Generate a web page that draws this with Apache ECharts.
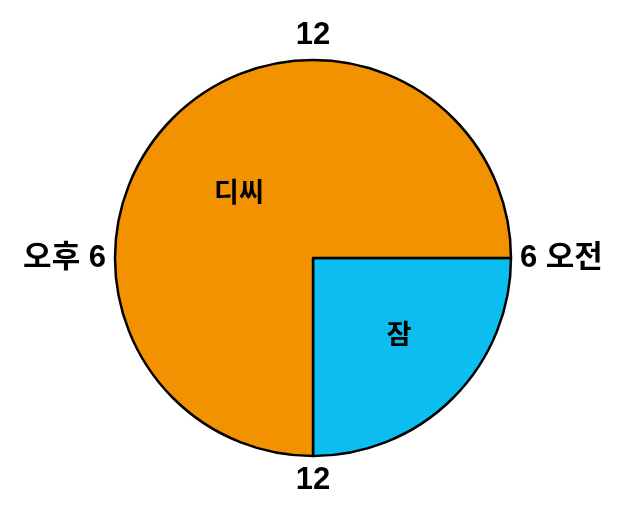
<!DOCTYPE html>
<html>
<head>
<meta charset="utf-8">
<script src="https://cdn.jsdelivr.net/npm/echarts@6/dist/echarts.min.js"></script>
<style>
  html, body { margin: 0; padding: 0; background: #fff; }
  #main { width: 623px; height: 520px; }
</style>
</head>
<body>
<div id="main"></div>
<script>
  // 하루 시간 (시간 단위) - 3시 방향(오전 6시)에서 시계 방향
  var activities = ['잠', '디씨'];
  var hours = [6, 18];
  var sliceColors = ['#0CBEF0', '#F29200'];
  // 시계 눈금 라벨 (0, 6, 12, 18, 24 시간 위치)
  var clockTicks = [0, 6, 12, 18, 24];
  var clockLabels = ['6 오전', '12', '오후 6', '12', ''];

  var myChart = echarts.init(document.getElementById('main'));

  var center = [313, 258];
  var radius = 198;
  // 라벨 위치 미세 조정
  var labelOffsets = [[14, 4], [-2, 6]];

  var option = {
    animation: false,
    backgroundColor: '#fff',
    polar: {
      center: center,
      radius: radius
    },
    angleAxis: {
      type: 'value',
      min: clockTicks[0],
      max: clockTicks[clockTicks.length - 1],
      interval: 6,
      startAngle: 0,
      clockwise: true,
      axisLine: { show: false },
      axisTick: { show: false },
      splitLine: { show: false },
      axisLabel: {
        margin: 9,
        color: '#000',
        fontFamily: 'Liberation Sans, Arial, Noto Sans CJK KR',
        fontWeight: 'bold',
        fontSize: 31,
        formatter: function (v) {
          return clockLabels[clockTicks.indexOf(v)];
        }
      }
    },
    radiusAxis: {
      show: false,
      min: 0,
      max: 1
    },
    series: [
      {
        type: 'pie',
        center: center,
        radius: radius,
        startAngle: 0,
        clockwise: true,
        silent: true,
        itemStyle: {
          borderColor: '#000',
          borderWidth: 2.5
        },
        label: {
          position: 'inside',
          color: '#000',
          fontFamily: 'Noto Sans CJK KR',
          fontWeight: 'bold',
          fontSize: 27,
          formatter: '{b}'
        },
        labelLine: { show: false },
        emphasis: { disabled: true },
        data: activities.map(function (name, i) {
          return {
            name: name,
            value: hours[i],
            itemStyle: { color: sliceColors[i] },
            label: { offset: labelOffsets[i] }
          };
        })
      }
    ]
  };
  myChart.setOption(option);
</script>
</body>
</html>
